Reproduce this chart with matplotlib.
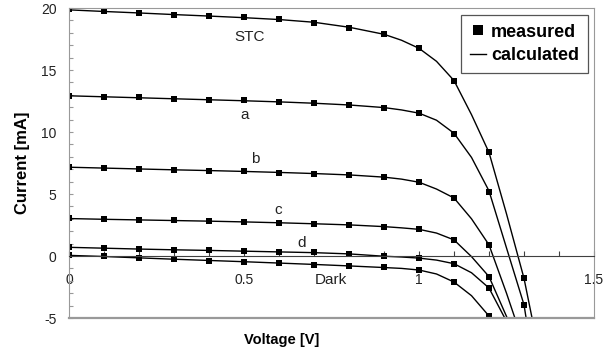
import numpy as np
import matplotlib
matplotlib.use("Agg")
import matplotlib.pyplot as plt
from matplotlib.lines import Line2D

plt.rcParams['font.family'] = ['Liberation Sans', 'DejaVu Sans']
plt.rcParams['axes.unicode_minus'] = False

# MEASURED POINTS
v_meas = [0.0, 0.1, 0.2, 0.3, 0.4, 0.5, 0.6, 0.7, 0.8, 0.9, 1.0, 1.1, 1.2, 1.3]
i_stc  = [19.92, 19.76, 19.62, 19.46, 19.38, 19.24, 19.11, 18.81, 18.39, 17.87, 16.74, 14.11, 8.35, -1.8]
i_a    = [12.9, 12.82, 12.82, 12.66, 12.6, 12.58, 12.44, 12.3, 12.18, 11.94, 11.5, 9.84, 5.2, -3.93]
i_b    = [7.18, 7.1, 7.02, 6.96, 6.88, 6.85, 6.72, 6.64, 6.56, 6.37, 5.94, 4.68, 0.9]
i_c    = [3.03, 2.98, 2.9, 2.9, 2.85, 2.77, 2.69, 2.6, 2.52, 2.36, 2.15, 1.29, -1.67]
i_d    = [0.7, 0.62, 0.56, 0.51, 0.45, 0.4, 0.32, 0.29, 0.16, -0.03, -0.16, -0.62, -2.58]
i_dark = [0.05, -0.03, -0.16, -0.27, -0.38, -0.46, -0.56, -0.7, -0.78, -0.92, -1.13, -2.12, -4.84]

# CALCULATED CURVES (denser near the knee)
v_base = [0.0, 0.1, 0.2, 0.3, 0.4, 0.5, 0.6, 0.7, 0.8, 0.9, 0.95, 1.0, 1.05, 1.1, 1.15, 1.2]
vc_stc  = v_base + [1.25, 1.3, 1.323]
ic_stc  = [19.85, 19.72, 19.6, 19.47, 19.35, 19.22, 19.07, 18.85, 18.45, 17.88, 17.4, 16.75, 15.7, 14.15, 11.4, 8.35, 3.4, -1.8, -5.0]
vc_a    = v_base + [1.25, 1.3, 1.306]
ic_a    = [12.92, 12.84, 12.76, 12.68, 12.6, 12.52, 12.43, 12.32, 12.18, 11.97, 11.78, 11.52, 10.95, 9.9, 7.95, 5.25, 0.65, -3.93, -5.0]
vc_b    = v_base + [1.25, 1.274]
ic_b    = [7.16, 7.09, 7.02, 6.95, 6.89, 6.82, 6.74, 6.65, 6.54, 6.36, 6.2, 5.95, 5.4, 4.68, 3.0, 0.9, -3.0, -5.0]
vc_c    = v_base + [1.252]
ic_c    = [3.02, 2.96, 2.91, 2.86, 2.81, 2.75, 2.68, 2.6, 2.51, 2.37, 2.27, 2.15, 1.85, 1.3, -0.05, -1.66, -5.0]
vc_d    = v_base + [1.245]
ic_d    = [0.7, 0.63, 0.56, 0.5, 0.45, 0.39, 0.33, 0.27, 0.17, -0.02, -0.08, -0.17, -0.33, -0.62, -1.35, -2.58, -5.0]
vc_dark = v_base + [1.203]
ic_dark = [0.05, -0.04, -0.15, -0.26, -0.36, -0.46, -0.57, -0.68, -0.8, -0.93, -1.0, -1.13, -1.45, -2.1, -3.2, -4.84, -5.0]

# curve labels: text, V, I
labels = [('STC', 0.517, 17.7), ('a', 0.503, 11.4), ('b', 0.531, 7.82),
          ('c', 0.598, 3.73), ('d', 0.665, 1.05), ('Dark', 0.749, -1.9)]

#
# PLOTTING
#
fig = plt.figure(figsize=(6.16, 3.64), dpi=100)
ax = fig.add_axes([69/616, 1-318/364, (594-69)/616, (318-8)/364])

calc = [(vc_stc, ic_stc), (vc_a, ic_a), (vc_b, ic_b), (vc_c, ic_c), (vc_d, ic_d), (vc_dark, ic_dark)]
for v, i in calc:
    ax.plot(v, i, '-', color='k', lw=1.0)
meas = [i_stc, i_a, i_b, i_c, i_d, i_dark]
for i in meas:
    ax.plot(v_meas[:len(i)], i, 's', color='k', ms=5, mew=0)

for txt, v, i in labels:
    ax.text(v, i, txt, fontsize=11, color='#222222', ha='center', va='center')

ax.set_xlim(0, 1.5)
ax.set_ylim(-5, 20)

# axis line through I = 0, frame in gray
ax.spines['bottom'].set_position(('data', 0))
ax.spines['bottom'].set_color('#404040')
for s in ['top', 'right', 'left']:
    ax.spines[s].set_color('#999999')
ax.axhline(-5, color='#999999', lw=1.6, clip_on=False)

ax.set_xticks([0, 0.5, 1, 1.5])
ax.set_xticklabels(['0', '0.5', '1', '1.5'])
ax.set_xticks(np.arange(0, 1.51, 0.1), minor=True)
ax.set_yticks([-5, 0, 5, 10, 15, 20])
ax.set_yticks(np.arange(-5, 20.1, 1), minor=True)
ax.tick_params(axis='x', which='both', direction='in', length=3.5, width=0.8,
               color='#404040', labelsize=10, pad=12, labelcolor='#222222')
ax.tick_params(axis='y', which='both', direction='in', length=3, width=0.8,
               color='#999999', labelsize=10, pad=9, labelcolor='#222222')

fig.text(22.5/616, 1-163/364, 'Current [mA]', rotation=90, fontsize=12,
         fontweight='bold', ha='center', va='center')
fig.text(282/616, 1-340/364, 'Voltage [V]', fontsize=10.5,
         fontweight='bold', ha='center', va='center')

handles = [Line2D([], [], marker='s', ls='none', color='k', ms=6.5, mew=0),
           Line2D([], [], ls='-', color='k', lw=1.0)]
leg = ax.legend(handles, ['measured', 'calculated'], loc='upper right',
                bbox_to_anchor=(588/616, 1-14.7/364), bbox_transform=fig.transFigure,
                borderaxespad=0, fancybox=False, framealpha=1, edgecolor='#555555',
                prop={'weight': 'bold', 'size': 13}, handlelength=0.9,
                handletextpad=0.25, labelspacing=0.35, borderpad=0.5)
leg.get_frame().set_linewidth(0.9)

plt.savefig('out.png', dpi=100)
